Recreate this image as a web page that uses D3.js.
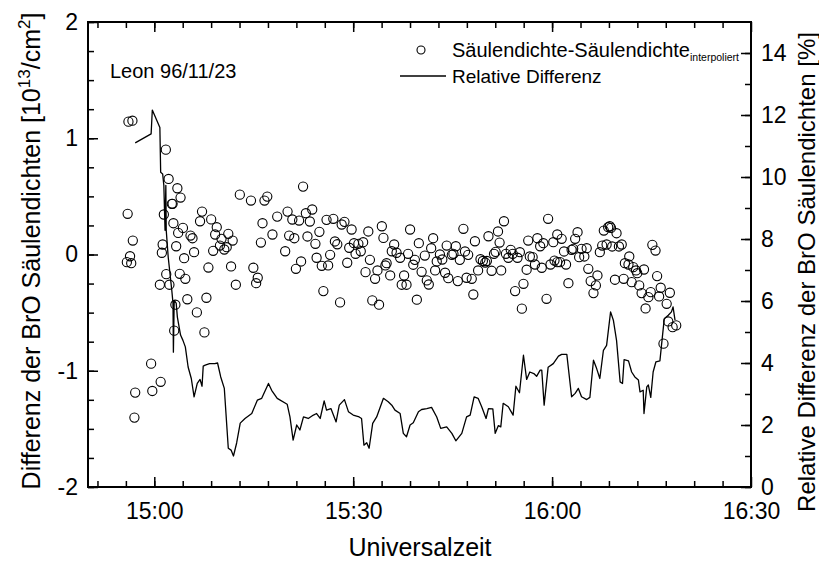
<!DOCTYPE html>
<html>
<head>
<meta charset="utf-8">
<title>Leon 96/11/23</title>
<script src="https://d3js.org/d3.v7.min.js"></script>
<style>
  body { margin: 0; background: #fff; }
  svg text { font-family: "Liberation Sans", Arial, Helvetica, sans-serif; fill: #000; }
  .axis path { display: none; }
  .axis line { stroke: #000; stroke-width: 1.5; }
  .axis text { font-size: 23px; }
</style>
</head>
<body>
<div id="chart"></div>
<script>
// time in decimal hours (UT), difference in 10^13/cm^2
var diffPoints = [
  [14.931,-0.066],[14.933,0.350],[14.935,1.143],[14.939,-0.015],[14.942,-0.075],[14.945,1.151],
  [14.946,0.120],[14.950,-1.403],[14.952,-1.188],[14.992,-0.939],[14.995,-1.174],[15.014,-0.26],
  [15.016,-1.095],[15.019,0.015],[15.021,0.086],[15.024,0.344],[15.029,0.902],[15.030,-0.169],
  [15.036,0.650],[15.038,-0.26],[15.044,0.436],[15.046,0.436],[15.048,0.269],[15.050,-0.655],
  [15.053,-0.432],[15.055,0.071],[15.058,0.570],[15.060,0.186],[15.064,-0.166],[15.066,0.490],
  [15.072,0.229],[15.075,-0.032],[15.078,-0.209],[15.083,-0.385],[15.091,0.163],[15.096,0.140],
  [15.100,0.020],[15.107,-0.498],[15.115,0.286],[15.120,0.369],[15.126,-0.670],[15.131,-0.372],
  [15.136,-0.112],[15.143,0.302],[15.148,0.032],[15.153,0.172],[15.157,0.235],[15.165,0.077],
  [15.169,0.135],[15.176,0.043],[15.182,0.063],[15.186,0.178],[15.193,-0.103],[15.197,0.120],
  [15.205,-0.260],[15.215,0.515],[15.243,0.464],[15.249,-0.114],[15.256,-0.247],[15.260,-0.200],
  [15.268,0.103],[15.272,0.269],[15.277,0.464],[15.284,0.498],[15.297,0.172],[15.309,0.326],
  [15.329,0.028],[15.335,0.369],[15.339,0.163],[15.347,0.301],[15.352,0.140],[15.356,-0.123],
  [15.364,0.292],[15.369,-0.060],[15.374,0.584],[15.381,0.355],[15.385,0.155],[15.391,0.284],
  [15.397,0.387],[15.405,0.092],[15.408,-0.028],[15.415,0.195],[15.421,-0.097],[15.425,-0.315],
  [15.433,0.298],[15.437,-0.094],[15.442,-0.003],[15.450,0.307],[15.454,0.112],[15.460,0.088],
  [15.467,-0.412],[15.471,0.258],[15.478,0.281],[15.485,-0.071],[15.490,0.058],[15.496,0.215],
  [15.502,0.097],[15.506,0.006],[15.513,0.092],[15.519,0.028],[15.525,0.106],[15.531,-0.152],
  [15.538,0.198],[15.542,-0.046],[15.548,-0.395],[15.555,-0.209],[15.561,-0.137],[15.565,-0.432],
  [15.572,0.243],[15.576,0.143],[15.581,-0.094],[15.584,-0.075],[15.593,-0.180],[15.597,0.028],
  [15.603,0.086],[15.609,0.015],[15.618,-0.028],[15.622,-0.260],[15.628,-0.180],[15.634,-0.260],
  [15.638,0.006],[15.643,0.215],[15.651,-0.088],[15.655,-0.046],[15.660,-0.389],[15.665,0.097],
  [15.672,-0.149],[15.680,-0.009],[15.685,-0.223],[15.690,-0.258],[15.696,0.054],[15.701,0.140],
  [15.706,-0.137],[15.710,-0.060],[15.718,0.000],[15.724,-0.043],[15.731,-0.157],[15.735,0.077],
  [15.739,-0.204],[15.748,-0.003],[15.752,0.006],[15.758,0.071],[15.763,-0.229],[15.768,-0.046],
  [15.777,0.221],[15.781,0.026],[15.785,-0.200],[15.789,-0.003],[15.798,-0.209],[15.802,-0.344],
  [15.806,0.114],[15.814,-0.137],[15.820,-0.041],[15.826,-0.056],[15.832,-0.069],[15.836,-0.056],
  [15.840,0.157],[15.848,-0.140],[15.854,0.006],[15.858,0.023],[15.864,0.198],[15.868,0.103],
  [15.872,-0.137],[15.879,0.286],[15.884,0.006],[15.890,-0.028],[15.896,0.040],[15.901,0.006],
  [15.907,-0.315],[15.913,-0.028],[15.919,0.020],[15.924,-0.466],[15.928,-0.252],[15.936,-0.131],
  [15.940,0.120],[15.944,-0.017],[15.951,-0.023],[15.957,-0.086],[15.963,0.140],[15.970,0.071],
  [15.974,-0.114],[15.978,0.097],[15.986,-0.381],[15.990,0.307],[15.996,-0.086],[16.003,0.106],
  [16.006,-0.052],[16.013,-0.066],[16.013,0.172],[16.020,-0.066],[16.024,0.135],[16.030,0.026],
  [16.035,-0.086],[16.041,-0.247],[16.049,0.040],[16.053,0.049],[16.058,0.135],[16.064,0.192],
  [16.068,-0.023],[16.074,0.049],[16.081,-0.017],[16.087,0.054],[16.091,-0.123],[16.097,-0.229],
  [16.104,-0.332],[16.110,-0.266],[16.114,-0.180],[16.120,0.020],[16.126,0.077],[16.130,0.206],
  [16.137,0.086],[16.141,0.235],[16.145,0.243],[16.148,0.229],[16.151,0.069],[16.158,-0.217],
  [16.162,0.183],[16.168,0.069],[16.175,0.086],[16.180,-0.209],[16.183,-0.075],[16.192,-0.086],
  [16.194,-0.017],[16.200,-0.238],[16.204,-0.109],[16.211,-0.137],[16.214,-0.161],[16.219,-0.266],
  [16.225,-0.332],[16.231,-0.129],[16.235,-0.464],[16.242,-0.367],[16.248,-0.324],[16.252,0.083],
  [16.260,0.034],[16.264,-0.186],[16.269,-0.361],[16.273,-0.286],[16.280,-0.767],[16.288,-0.424],
  [16.292,-0.576],[16.296,-0.329],[16.303,-0.625],[16.312,-0.610]
];

// time in decimal hours (UT), relative difference in %
var relPoints = [
  [14.952,11.10],[14.992,11.39],[14.995,12.16],[15.014,11.60],[15.016,10.15],[15.021,10.10],
  [15.024,9.73],[15.027,8.28],[15.029,9.73],[15.030,8.28],[15.035,7.41],[15.044,6.34],
  [15.047,5.93],[15.048,4.35],[15.050,6.02],[15.055,5.93],[15.058,5.48],[15.066,4.90],
  [15.072,4.73],[15.078,4.52],[15.085,3.87],[15.093,3.50],[15.100,2.91],[15.108,3.34],
  [15.115,3.47],[15.120,3.25],[15.123,3.90],[15.128,3.93],[15.139,3.98],[15.152,3.98],
  [15.159,4.00],[15.167,3.55],[15.176,3.18],[15.186,1.25],[15.193,1.19],[15.199,1.00],
  [15.207,1.42],[15.216,2.06],[15.228,2.21],[15.245,2.37],[15.259,2.80],[15.270,2.86],
  [15.287,3.34],[15.295,3.12],[15.309,2.86],[15.334,2.67],[15.341,2.26],[15.349,1.51],
  [15.358,2.00],[15.366,1.84],[15.375,2.26],[15.387,2.21],[15.400,2.32],[15.408,2.37],
  [15.417,2.21],[15.427,2.78],[15.433,2.48],[15.444,2.53],[15.457,2.10],[15.465,2.64],
  [15.478,2.82],[15.488,2.43],[15.500,2.32],[15.515,2.26],[15.521,2.21],[15.527,1.35],
  [15.534,1.43],[15.540,1.25],[15.549,2.05],[15.559,2.26],[15.576,2.86],[15.588,2.75],
  [15.597,2.64],[15.605,2.48],[15.618,2.37],[15.626,1.73],[15.634,1.62],[15.643,2.00],
  [15.651,2.07],[15.664,2.43],[15.672,2.50],[15.685,2.53],[15.697,2.57],[15.710,2.26],
  [15.720,1.89],[15.735,1.94],[15.748,1.73],[15.758,1.49],[15.773,1.73],[15.785,2.26],
  [15.794,2.32],[15.804,2.91],[15.814,2.86],[15.823,2.59],[15.834,2.21],[15.840,2.53],
  [15.851,2.52],[15.857,1.73],[15.865,1.98],[15.871,1.94],[15.877,2.70],[15.890,2.59],
  [15.902,2.32],[15.909,3.25],[15.918,3.04],[15.928,4.25],[15.936,3.47],[15.944,3.71],
  [15.954,3.66],[15.961,3.57],[15.970,3.77],[15.974,3.77],[15.980,2.64],[15.990,3.86],
  [16.003,3.98],[16.016,4.22],[16.024,4.28],[16.037,4.28],[16.049,2.91],[16.058,3.02],
  [16.066,3.18],[16.074,2.91],[16.087,2.82],[16.095,2.89],[16.104,4.09],[16.112,3.82],
  [16.120,3.50],[16.129,4.41],[16.137,4.57],[16.147,5.65],[16.154,5.38],[16.162,4.73],
  [16.171,3.39],[16.177,3.34],[16.181,4.11],[16.192,4.07],[16.200,3.71],[16.208,3.55],
  [16.217,3.45],[16.221,3.07],[16.229,3.12],[16.231,2.37],[16.238,3.23],[16.242,3.29],
  [16.248,2.89],[16.254,3.71],[16.261,4.04],[16.271,4.07],[16.275,4.57],[16.282,5.43],
  [16.292,5.54],[16.300,5.65],[16.304,5.81],[16.309,5.38]
];

var xMajor = [15, 15.5, 16, 16.5];
var xMajorLabels = ["15:00", "15:30", "16:00", "16:30"];
var yLeftMajor = [-2, -1, 0, 1, 2];
var yRightMajor = [0, 2, 4, 6, 8, 10, 12, 14];

var margin = { top: 22, right: 68, bottom: 77, left: 88 },
    width = 819 - margin.left - margin.right,
    height = 564 - margin.top - margin.bottom;

var svg = d3.select("#chart").append("svg")
    .attr("width", 819)
    .attr("height", 564);

var g = svg.append("g")
    .attr("transform", "translate(" + margin.left + "," + margin.top + ")");

var x = d3.scaleLinear().domain([14 + 50 / 60, 16.5]).range([0, width]);
var yL = d3.scaleLinear().domain([-2, 2]).range([height, 0]);
var yR = d3.scaleLinear().domain([0, 15]).range([height, 0]);

// minor ticks: 7 per half hour on x, quarter units on left, 1 % on right
var xStep = 0.5 / 7;
var xMinor = d3.range(-2, 22).map(function(i) { return 15 + i * xStep; })
    .filter(function(v) { return v > x.domain()[0] + 1e-6 && v < 16.5 - 1e-6; });
var yLeftMinor = d3.range(-2, 2.01, 0.25);
var yRightMinor = d3.range(0, 15, 1);

function fmtX(d) { return xMajorLabels[xMajor.indexOf(d)]; }
function fmtNum(d) { return String(d); }   // plain hyphen for negatives

// minor ticks
g.append("g").attr("class", "axis").attr("transform", "translate(0," + height + ")")
    .call(d3.axisBottom(x).tickValues(xMinor).tickSize(-6).tickFormat(""));
g.append("g").attr("class", "axis")
    .call(d3.axisTop(x).tickValues(xMinor).tickSize(-6).tickFormat(""));
g.append("g").attr("class", "axis")
    .call(d3.axisLeft(yL).tickValues(yLeftMinor).tickSize(-6).tickFormat(""));
g.append("g").attr("class", "axis").attr("transform", "translate(" + width + ",0)")
    .call(d3.axisRight(yR).tickValues(yRightMinor).tickSize(-6).tickFormat(""));

// major ticks with labels
g.append("g").attr("class", "axis").attr("transform", "translate(0," + height + ")")
    .call(d3.axisBottom(x).tickValues(xMajor).tickSize(-10).tickPadding(16).tickFormat(fmtX));
g.append("g").attr("class", "axis")
    .call(d3.axisTop(x).tickValues(xMajor).tickSize(-10).tickFormat(""));
g.append("g").attr("class", "axis")
    .call(d3.axisLeft(yL).tickValues(yLeftMajor).tickSize(-10).tickPadding(10).tickFormat(fmtNum));
g.append("g").attr("class", "axis").attr("transform", "translate(" + width + ",0)")
    .call(d3.axisRight(yR).tickValues(yRightMajor).tickSize(-10).tickPadding(10).tickFormat(fmtNum));

g.selectAll(".axis text").style("font-size", "23px");

// frame
g.append("rect")
    .attr("width", width).attr("height", height)
    .attr("fill", "none").attr("stroke", "#000").attr("stroke-width", 2);

// relative difference line (right axis)
var line = d3.line()
    .x(function(d) { return x(d[0]); })
    .y(function(d) { return yR(d[1]); });

g.append("path")
    .datum(relPoints)
    .attr("d", line)
    .attr("fill", "none")
    .attr("stroke", "#000")
    .attr("stroke-width", 1.3)
    .attr("stroke-linejoin", "round");

// column density differences (left axis)
g.append("g").selectAll("circle")
    .data(diffPoints)
    .enter().append("circle")
    .attr("cx", function(d) { return x(d[0]); })
    .attr("cy", function(d) { return yL(d[1]); })
    .attr("r", 4.6)
    .attr("fill", "none")
    .attr("stroke", "#000")
    .attr("stroke-width", 1.1);

// station label
svg.append("text")
    .attr("x", 110).attr("y", 78)
    .style("font-size", "20px")
    .text("Leon 96/11/23");

// legend
svg.append("circle")
    .attr("cx", 421).attr("cy", 50).attr("r", 4)
    .attr("fill", "none").attr("stroke", "#000").attr("stroke-width", 1.1);
var leg1 = svg.append("text").attr("x", 452).attr("y", 57).style("font-size", "20px");
leg1.append("tspan").text("Säulendichte-Säulendichte");
leg1.append("tspan").attr("dy", 4).style("font-size", "10.5px").text("interpoliert");

svg.append("line")
    .attr("x1", 400).attr("x2", 446).attr("y1", 76).attr("y2", 76)
    .attr("stroke", "#000").attr("stroke-width", 1.3);
svg.append("text").attr("x", 452).attr("y", 83).style("font-size", "19px")
    .text("Relative Differenz");

// axis titles
svg.append("text")
    .attr("x", 420).attr("y", 556)
    .attr("text-anchor", "middle")
    .style("font-size", "25px")
    .text("Universalzeit");

var lt = svg.append("text")
    .attr("transform", "translate(40,251) rotate(-90)")
    .attr("text-anchor", "middle")
    .style("font-size", "25px");
lt.append("tspan").text("Differenz der BrO Säulendichten [10");
lt.append("tspan").attr("dy", -10).style("font-size", "17px").text("13");
lt.append("tspan").attr("dy", 10).text("/cm");
lt.append("tspan").attr("dy", -10).style("font-size", "17px").text("2");
lt.append("tspan").attr("dy", 10).text("]");

svg.append("text")
    .attr("transform", "translate(815,272) rotate(-90)")
    .attr("text-anchor", "middle")
    .style("font-size", "24px")
    .text("Relative Differenz der BrO Säulendichten [%]");
</script>
</body>
</html>
